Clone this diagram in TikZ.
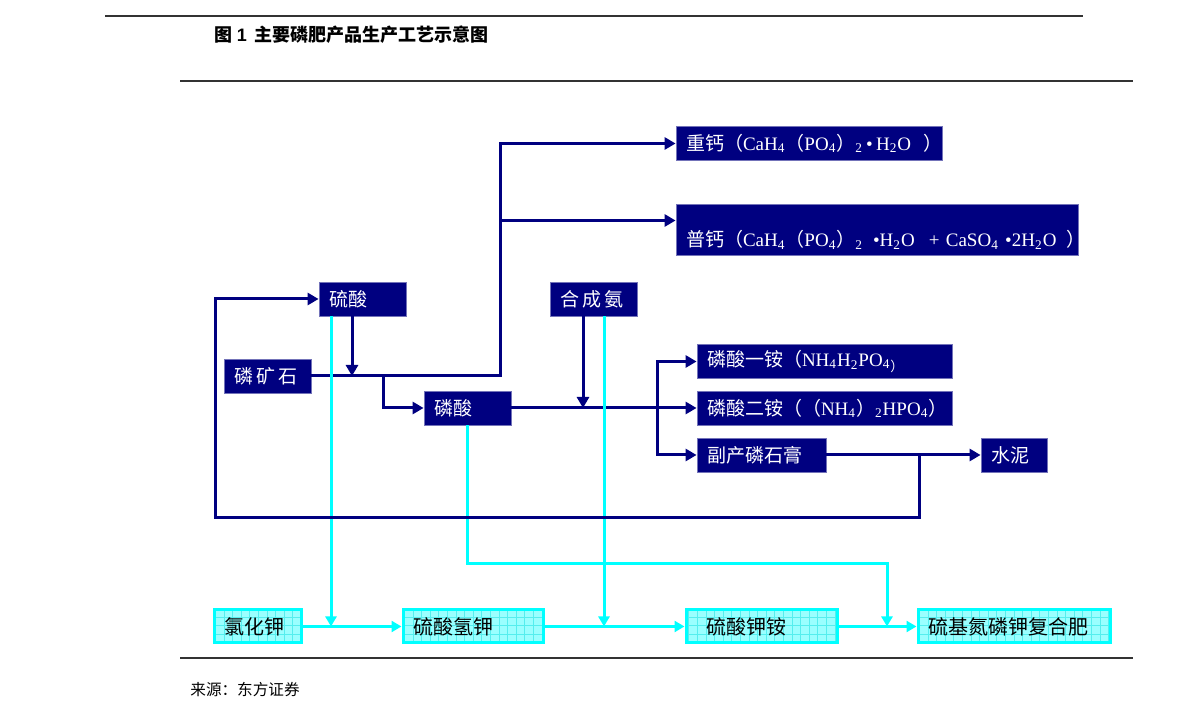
\documentclass[tikz,border=0pt]{standalone}
\usepackage{fontspec}
\setmainfont{Liberation Serif}
\setsansfont{Liberation Sans}
\newfontfamily\cjk{Noto Sans CJK SC}
\usetikzlibrary{arrows.meta}

\definecolor{navy}{HTML}{000080}
\definecolor{aqua}{HTML}{00FFFF}
\definecolor{paleaqua}{HTML}{9AFFFF}
\definecolor{gridaqua}{HTML}{55EEEE}

\newcommand{\cn}[1]{{\cjk #1}}
\newcommand{\sbs}[1]{\textsubscript{#1}}

\tikzset{
  flow/.style={draw=navy, line width=1.5pt, -{Triangle[length=5.5pt,width=6pt]}},
  kflow/.style={draw=aqua, line width=1.5pt, -{Triangle[length=5pt,width=5.5pt]}},
  navybox/.style={fill=navy, draw=navy!55!white, line width=0.4pt, text=white,
    minimum height=17pt, inner xsep=5pt, inner ysep=0pt, align=left,
    font=\fontsize{9.5}{11}\selectfont},
  kbox/.style={fill=paleaqua, draw=aqua, line width=1.5pt, text=black,
    minimum height=16.5pt, inner xsep=5pt, inner ysep=0pt, align=left,
    font=\fontsize{10}{12}\selectfont,
    path picture={\draw[gridaqua, line width=0.4pt, step=4.3pt]
      (path picture bounding box.south west) grid (path picture bounding box.north east);}},
  rule/.style={draw=black!80, line width=1pt}
}

\begin{document}
\begin{tikzpicture}[x=0.5pt, y=-0.5pt]
\useasboundingbox (0,0) rectangle (1191,721);

% rules and captions
\draw[rule] (105,16) -- (1083,16);
\draw[rule] (180,81) -- (1133,81);
\draw[rule] (180,658) -- (1133,658);
\node[anchor=west, inner sep=0pt, font=\fontsize{9}{11}\selectfont\bfseries] (title) at (214,35)
  {\cn{图} {\sffamily 1}\hspace{4pt}\cn{主要磷肥产品生产工艺示意图}};
\node[anchor=west, inner sep=0pt, font=\fontsize{7.8}{9}\selectfont] (source) at (190,690)
  {\cn{来源：东方证券}};

% products on top
\node[navybox, text width=123pt] (zhong-gai) at (809,143.5)
  {\mbox{\cn{重钙（}CaH\sbs{4}\cn{（}PO\sbs{4}\cn{）}\sbs{2}\,•\,H\sbs{2}O\hspace{6pt}\cn{）}}};
\node[navybox, text width=191pt, minimum height=25.5pt, text height=20pt, text depth=2.5pt, inner ysep=1.5pt] (pu-gai) at (877,229.5)
  {\mbox{\cn{普钙（}CaH\sbs{4}\cn{（}PO\sbs{4}\cn{）}\sbs{2}\hspace{5pt}•H\sbs{2}O\hspace{7pt}+ CaSO\sbs{4} •2H\sbs{2}O\hspace{5pt}\cn{）}}};

% raw materials
\node[navybox, text width=33.5pt] (liu-suan) at (362.5,299) {\cn{硫酸}};
\node[navybox, text width=33.5pt] (he-an) at (593.5,299) {\cn{合\,成\,氨}};
\node[navybox, text width=33.5pt] (lin-kuang) at (267.5,376) {\cn{磷\,矿\,石}};
\node[navybox, text width=33.5pt] (lin-suan) at (467.5,408) {\cn{磷酸}};

% ammonium phosphates
\node[navybox, text width=117.5pt] (an-1) at (824.5,361.5)
  {\mbox{\cn{磷酸一铵（}NH\sbs{4}H\sbs{2}PO\sbs{4}\sbs{\cjk ）}}};
\node[navybox, text width=117.5pt] (an-2) at (824.5,408.5)
  {\mbox{\cn{磷酸二铵（（}NH\sbs{4}\cn{）}\sbs{2}HPO\sbs{4}\cn{）}}};
\node[navybox, text width=54.5pt] (shi-gao) at (761.5,455) {\cn{副产磷石膏}};
\node[navybox, text width=23pt] (shui-ni) at (1014,455) {\cn{水泥}};

% potash line
\node[kbox, text width=33.5pt] (k-cl) at (257.5,626.5) {\cn{氯化钾}};
\node[kbox, text width=60pt] (k-hso) at (473,626.5) {\cn{硫酸氢钾}};
\node[kbox, text width=55.5pt, inner xsep=10pt] (k-nh) at (761.5,626.5) {\cn{硫酸钾铵}};
\node[kbox, text width=86pt] (npk) at (1014,626.5) {\cn{硫基氮磷钾复合肥}};

% navy flows
\coordinate (rise) at (500,376);
\coordinate (split) at (383,376);
\coordinate (fork) at (657,408);
\draw[flow] (lin-kuang.east) -- (rise) |- (zhong-gai.west);
\draw[flow] (rise |- pu-gai.west) ++(0,-9) -- ([yshift=4.5pt]pu-gai.west);
\draw[flow] ([xshift=-5.25pt]liu-suan.south) -- ([xshift=-5.25pt]liu-suan.south |- lin-kuang.east);
\draw[flow] (split) |- (lin-suan.west);
\draw[flow] (lin-suan.east) -- (lin-suan.east -| an-2.west);
\draw[flow] ([xshift=-5.25pt]he-an.south) -- ([xshift=-5.25pt]he-an.south |- lin-suan.east);
\draw[flow] (fork) |- (an-1.west);
\draw[flow] (fork) |- (shi-gao.west);
\draw[flow] (shi-gao.east) -- (shui-ni.west);

% cyan flows
\coordinate (cross) at (887,564);
\draw[kflow] ([xshift=-15.75pt]liu-suan.south) -- ([xshift=-15.75pt]liu-suan.south |- k-cl.east);
\draw[kflow] ([xshift=5.25pt]he-an.south) -- ([xshift=5.25pt]he-an.south |- k-hso.east);
\draw[kflow] (lin-suan.south) |- (cross) -- (cross |- k-nh.east);
\draw[kflow] (k-cl.east) -- (k-hso.west);
\draw[kflow] (k-hso.east) -- (k-nh.west);
\draw[kflow] (k-nh.east) -- (npk.west);

% gypsum back to acid
\coordinate (back) at (919,455);
\coordinate (loop) at (215,518);
\draw[flow] (back) |- (loop) |- (liu-suan.west);

\end{tikzpicture}
\end{document}
